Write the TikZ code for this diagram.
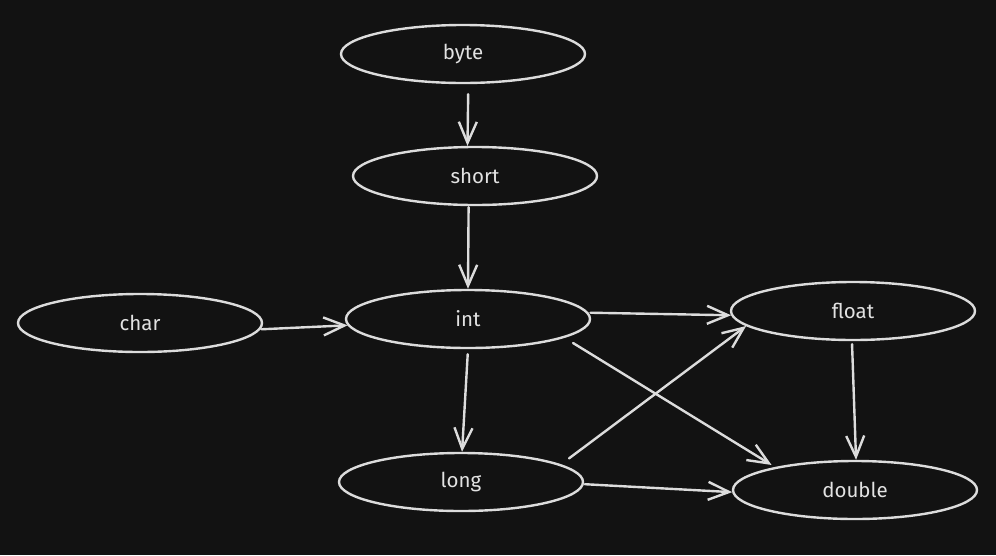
\documentclass[tikz,border=0pt]{standalone}
\usepackage{fontspec}
\setmainfont{Fira Sans}
\usetikzlibrary{shapes.geometric,arrows.meta}
\definecolor{bg}{HTML}{121212}
\definecolor{ink}{HTML}{DCDCDC}
\definecolor{txt}{HTML}{E2E2E2}
\tikzset{
  typenode/.style={ellipse, draw=ink, line width=2.4pt, minimum width=244pt,
    minimum height=58pt, inner sep=0pt, text=txt, font=\fontsize{20.5}{24}\selectfont},
  conv/.style={draw=ink, line width=2.4pt, line cap=round, line join=round,
    -{Straight Barb[length=21pt,width=18pt,line width=2.4pt]}}
}
\begin{document}
\begin{tikzpicture}[x=1pt,y=-1pt]
\fill[bg] (0,0) rectangle (996,555);
\useasboundingbox (0,0) rectangle (996,555);
\node[typenode] (byte)   at (463,54)  {byte};
\node[typenode] (short)  at (475,176) {short};
\node[typenode] (int)    at (468,319) {int};
\node[typenode] (char)   at (140,323) {char};
\node[typenode] (float)  at (853,311) {float};
\node[typenode] (long)   at (461,482) {long};
\node[typenode] (double) at (855,490) {double};

\draw[conv, shorten <=10pt] (byte.-80) -- (short.104);
\draw[conv, shorten <=1pt] (short.-102) -- (int.90);
\draw[conv, shorten <=1pt] (char.-3) -- (int.183);
\draw[conv, shorten <=2pt] (int.3) -- (float.182);
\draw[conv, shorten <=5pt] (int.-90) -- (long.88);
\draw[conv, shorten <=10pt, shorten >=4pt] (int.-11.5) -- (double.164.8);
\draw[conv, shorten <=10pt] (long.10.8) -- (float.188);
\draw[conv, shorten <=1pt] (long.-1.5) -- (double.181);
\draw[conv, shorten <=3pt] (float.-92) -- (double.88);
\end{tikzpicture}
\end{document}
